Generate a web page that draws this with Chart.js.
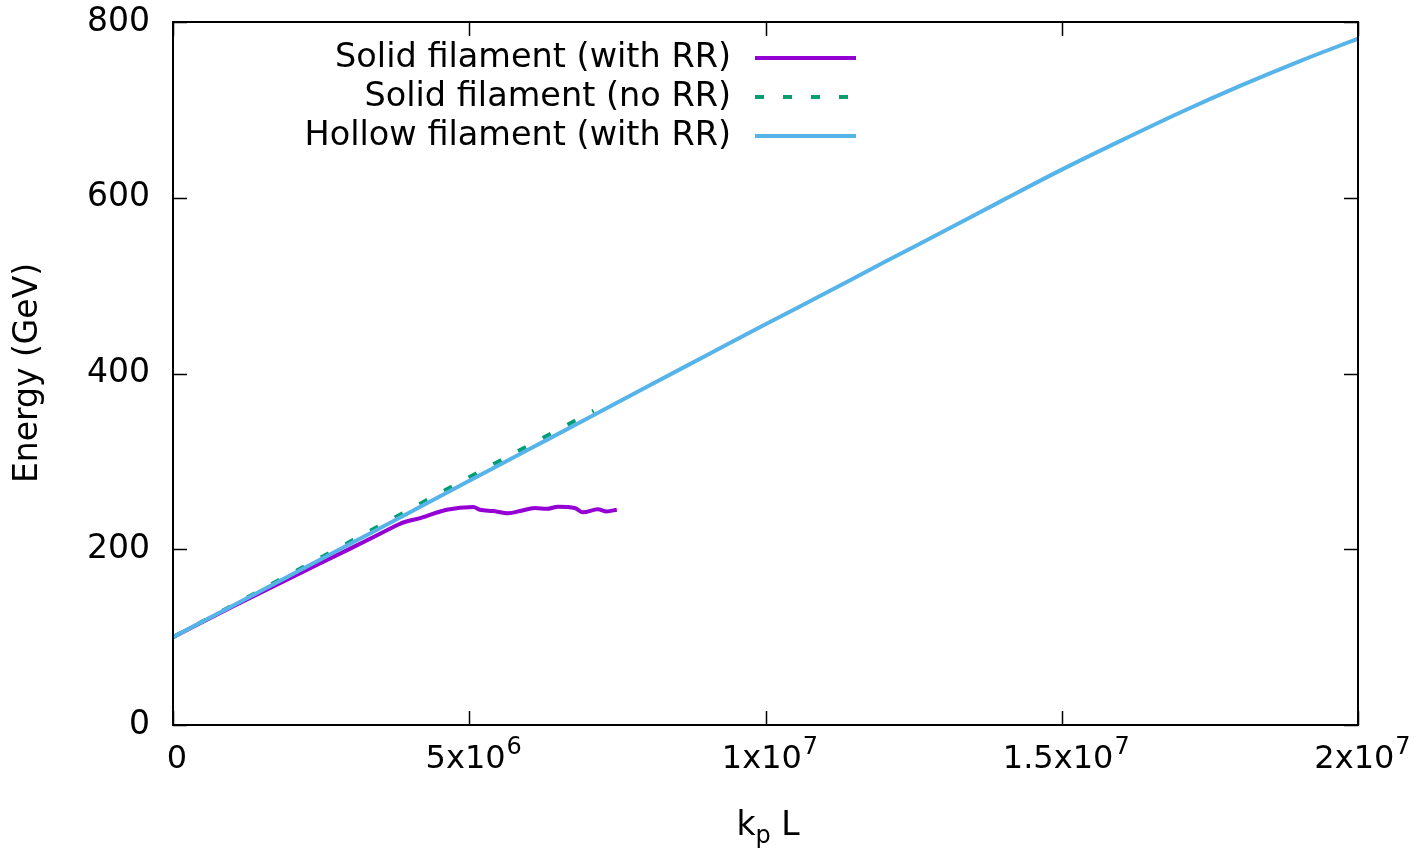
<!DOCTYPE html>
<html>
<head>
<meta charset="utf-8">
<script src="https://cdn.jsdelivr.net/npm/chart.js@4.4.1/dist/chart.umd.min.js"></script>
<style>
  body { margin: 0; background: #fff; }
  #wrap { width: 1416px; height: 850px; position: relative; }
</style>
</head>
<body>
<div id="wrap"><canvas id="energyChart"></canvas></div>
<script>
// data (k_p L, energy in GeV)
const solidRR_x = [0, 1e6, 2e6, 3e6, 3.71e6, 3.83e6, 4.2e6, 4.62e6, 5.07e6, 5.18e6, 5.4e6, 5.66e6, 5.86e6, 6.11e6, 6.31e6, 6.5e6, 6.78e6, 6.92e6, 7.17e6, 7.32e6, 7.49e6];
const solidRR_E = [100, 134.5, 168, 201, 225, 229, 236, 245, 248, 245, 243.5, 241, 243.5, 247, 246, 248.5, 247, 242, 245.5, 243, 245];

const solidNoRR_x = [0, 1e6, 2e6, 3e6, 4e6, 5e6, 6e6, 7e6, 7.1e6];
const solidNoRR_E = [100, 136, 172.5, 209, 245.5, 282, 318, 354, 357.5];

const hollowRR_x = [0, 1e6, 2e6, 3e6, 4e6, 5e6, 6e6, 7e6, 8e6, 9e6, 1e7, 1.1e7, 1.2e7, 1.3e7, 1.4e7, 1.5e7, 1.6e7, 1.7e7, 1.8e7, 1.9e7, 2e7];
const hollowRR_E = [100, 135.5, 171, 206.5, 242, 278, 313.5, 349, 385, 420.5, 456, 491, 526.5, 561.5, 597, 632, 665, 697, 727, 755, 781];

const xTicks = [0, 5e6, 1e7, 1.5e7, 2e7];
const yTicks = [0, 200, 400, 600, 800];

const FONT = "'DejaVu Sans', sans-serif";

function toPoints(xs, ys) {
  return xs.map((x, i) => ({ x: x, y: ys[i] }));
}

// gnuplot-like frame, inward ticks, labels with superscripts, legend
const frameAndLabels = {
  id: 'frameAndLabels',
  afterDraw(chart) {
    const { ctx, chartArea: area, scales: { x, y } } = chart;
    const tl = 14;

    ctx.save();
    ctx.strokeStyle = '#000';
    ctx.lineWidth = 2;
    ctx.strokeRect(area.left, area.top, area.right - area.left, area.bottom - area.top);

    // inward ticks on all four sides
    ctx.lineWidth = 1.5;
    ctx.beginPath();
    x.ticks.forEach(t => {
      const px = Math.round(x.getPixelForValue(t.value)) + 0.5;
      ctx.moveTo(px, area.bottom); ctx.lineTo(px, area.bottom - tl);
      ctx.moveTo(px, area.top); ctx.lineTo(px, area.top + tl);
    });
    y.ticks.forEach(t => {
      const py = Math.round(y.getPixelForValue(t.value)) + 0.5;
      ctx.moveTo(area.left, py); ctx.lineTo(area.left + tl, py);
      ctx.moveTo(area.right, py); ctx.lineTo(area.right - tl, py);
    });
    ctx.stroke();

    // x tick labels like 5x10^6
    ctx.fillStyle = '#000';
    ctx.textBaseline = 'alphabetic';
    ctx.textAlign = 'left';
    x.ticks.forEach(t => {
      const v = t.value;
      const px = x.getPixelForValue(v) + 4;
      let base = '0', sup = '';
      if (v !== 0) {
        const e = Math.floor(Math.log10(v) + 1e-9);
        const m = Math.round(v / Math.pow(10, e) * 10) / 10;
        base = m + 'x10';
        sup = String(e);
      }
      ctx.font = '32px ' + FONT;
      const wb = ctx.measureText(base).width;
      ctx.font = '24px ' + FONT;
      const ws = ctx.measureText(sup).width;
      const start = px - (wb + ws) / 2;
      ctx.font = '32px ' + FONT;
      ctx.fillText(base, start, 768);
      ctx.font = '24px ' + FONT;
      ctx.fillText(sup, start + wb + 1, 754);
    });

    // x axis title k_p L
    ctx.font = '33px ' + FONT;
    const wk = ctx.measureText('k').width;
    const wL = ctx.measureText(' L').width;
    ctx.font = '24px ' + FONT;
    const wp = ctx.measureText('p').width;
    let sx = 768 - (wk + wp + wL) / 2;
    ctx.font = '33px ' + FONT;
    ctx.fillText('k', sx, 835);
    ctx.font = '24px ' + FONT;
    ctx.fillText('p', sx + wk, 843);
    ctx.font = '33px ' + FONT;
    ctx.fillText(' L', sx + wk + wp, 835);

    // y axis title
    ctx.save();
    ctx.translate(28, 373);
    ctx.rotate(-Math.PI / 2);
    ctx.textAlign = 'center';
    ctx.textBaseline = 'middle';
    ctx.font = '33px ' + FONT;
    ctx.fillText('Energy (GeV)', 0, 0);
    ctx.restore();

    // legend: text right-aligned, sample line on the right
    const order = [2, 1, 0];
    order.forEach((di, row) => {
      const ds = chart.data.datasets[di];
      const ly = 58 + row * 39;
      ctx.font = '33.5px ' + FONT;
      ctx.textAlign = 'right';
      ctx.textBaseline = 'middle';
      ctx.fillStyle = '#000';
      ctx.fillText(ds.label, 731, ly);
      ctx.strokeStyle = ds.borderColor;
      ctx.lineWidth = ds.borderWidth;
      ctx.setLineDash(ds.borderDash || []);
      ctx.beginPath();
      ctx.moveTo(755, ly);
      ctx.lineTo(856, ly);
      ctx.stroke();
      ctx.setLineDash([]);
    });
    ctx.restore();
  }
};

const chartCtx = document.getElementById('energyChart').getContext('2d');
const energyChart = new Chart(chartCtx, {
  type: 'line',
  data: {
    datasets: [
      {
        label: 'Hollow filament (with RR)',
        data: toPoints(hollowRR_x, hollowRR_E),
        borderColor: '#56B4E9',
        borderWidth: 4,
        order: 0
      },
      {
        label: 'Solid filament (no RR)',
        data: toPoints(solidNoRR_x, solidNoRR_E),
        borderColor: '#009E73',
        borderWidth: 4,
        borderDash: [9, 19],
        order: 1
      },
      {
        label: 'Solid filament (with RR)',
        data: toPoints(solidRR_x, solidRR_E),
        borderColor: '#9400D3',
        borderWidth: 4,
        order: 2
      }
    ]
  },
  options: {
    responsive: true,
    maintainAspectRatio: false,
    animation: false,
    layout: { padding: { top: 22, right: 58, left: 0, bottom: 0 } },
    elements: {
      point: { radius: 0 },
      line: { cubicInterpolationMode: 'monotone', borderCapStyle: 'butt', borderJoinStyle: 'round', fill: false }
    },
    plugins: {
      legend: { display: false },
      tooltip: { enabled: false }
    },
    scales: {
      x: {
        type: 'linear',
        min: 0,
        max: 2e7,
        afterBuildTicks: scale => { scale.ticks = xTicks.map(v => ({ value: v })); },
        afterFit: scale => { scale.height = 125; scale.paddingLeft = 0; scale.paddingRight = 0; },
        grid: { display: false },
        border: { display: false },
        ticks: { display: false }
      },
      y: {
        min: 0,
        max: 800,
        afterBuildTicks: scale => { scale.ticks = yTicks.map(v => ({ value: v })); },
        afterFit: scale => { scale.width = 173; scale.paddingTop = 0; scale.paddingBottom = 0; },
        grid: { display: false, drawTicks: false },
        border: { display: false },
        ticks: {
          color: '#000',
          padding: 23,
          font: { family: FONT, size: 33 }
        }
      }
    }
  },
  plugins: [frameAndLabels]
});
</script>
</body>
</html>
